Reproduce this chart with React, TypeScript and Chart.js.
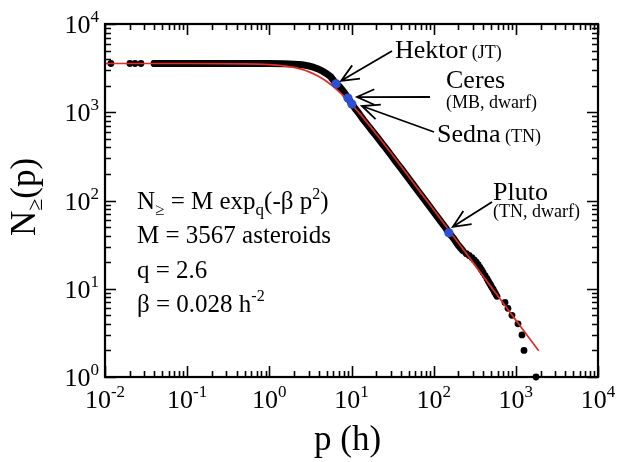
import React, { useEffect, useRef } from "react";
import { Chart, registerables } from "chart.js";

Chart.register(...registerables);

// Red fit curve N = M exp_q(-beta p^2)
const FIT_P = [0.01, 0.1, 0.5, 1, 1.5, 2, 2.5, 3, 4, 5, 6, 7, 8, 10, 12, 15, 20, 30, 50, 70, 100, 150, 200, 300, 500, 700, 1000, 1400, 1900];
const FIT_N = [3567, 3566, 3542, 3471, 3359, 3218, 3057, 2886, 2544, 2231, 1957, 1726, 1532, 1232, 1017, 793, 568, 349, 186, 122, 78.4, 47.3, 33.0, 19.9, 10.5, 6.9, 4.41, 2.9, 1.98];

// Dense part of the asteroid data (merged black dots)
const DENSE_P = [0.04, 0.3, 1, 1.5, 2, 2.5, 3, 3.5, 4, 4.5, 5, 5.6, 6.5, 7, 8, 9.06, 10.1, 11, 12.5, 14, 16, 18, 20, 23, 26, 30, 35, 40, 50, 60, 70, 85, 100, 120, 140, 153, 175, 200, 227];
const DENSE_N = [3567, 3566, 3560, 3545, 3510, 3450, 3350, 3220, 3070, 2900, 2730, 2520, 2100, 1990, 1720, 1449, 1240, 1110, 950, 820, 700, 610, 540, 455, 395, 330, 272, 232, 176, 140, 116, 91, 74, 59, 49, 43, 37, 31, 27];

// Separate asteroid dots
const DOT_P = [0.0118, 0.0201, 0.0232, 0.0274, 0.0395, 250, 270, 293, 312, 330, 348, 366, 383, 400, 423, 446, 463, 480, 497, 513, 531, 550, 570, 590, 738, 802, 897, 1062, 1188, 1257, 1760];
const DOT_N = [3567, 3567, 3567, 3567, 3567, 25, 23.8, 22.5, 21.2, 20, 18.7, 17.4, 16.3, 15.3, 14.1, 13, 12.2, 11.5, 10.9, 10.3, 9.8, 9.2, 8.7, 8.2, 7, 6, 5, 4, 3, 2, 1];

// Named bodies (blue)
const NAMED = ["Hektor", "Ceres", "Sedna", "Pluto"];
const NAMED_P = [6.5, 9.06, 10.1, 153];
const NAMED_N = [2100, 1449, 1240, 43];

const X_EXPS = [-2, -1, 0, 1, 2, 3, 4];
const Y_EXPS = [0, 1, 2, 3, 4];

const FONT = (s: number) => `${s}px "Liberation Serif", "Times New Roman", serif`;

type Run = [string, number, number];

function runsWidth(ctx: CanvasRenderingContext2D, runs: Run[]) {
  let w = 0;
  for (const [t, s] of runs) {
    ctx.font = FONT(s);
    w += ctx.measureText(t).width;
  }
  return w;
}

function drawRuns(ctx: CanvasRenderingContext2D, x: number, y: number, runs: Run[]) {
  let cx = x;
  for (const [t, s, dy] of runs) {
    ctx.font = FONT(s);
    ctx.fillText(t, cx, y + dy);
    cx += ctx.measureText(t).width;
  }
  return cx;
}

function arrow(ctx: CanvasRenderingContext2D, x1: number, y1: number, x2: number, y2: number) {
  const ang = Math.atan2(y1 - y2, x1 - x2);
  const L = 19;
  const s = 0.42;
  ctx.beginPath();
  ctx.moveTo(x1, y1);
  ctx.lineTo(x2, y2);
  ctx.moveTo(x2 + L * Math.cos(ang + s), y2 + L * Math.sin(ang + s));
  ctx.lineTo(x2, y2);
  ctx.lineTo(x2 + L * Math.cos(ang - s), y2 + L * Math.sin(ang - s));
  ctx.stroke();
}

const ANNOTATIONS = [
  { i: 0, tail: [392, 51], tip: [5, -3], lines: [{ x: 395, y: 58, runs: [["Hektor", 26, 0], [" (JT)", 18, 0]] as Run[] }] },
  { i: 1, tail: [430, 97], tip: [9, -1], lines: [{ x: 446, y: 88, runs: [["Ceres", 26, 0]] as Run[] }, { x: 446, y: 108, runs: [["(MB, dwarf)", 18, 0]] as Run[] }] },
  { i: 2, tail: [434, 132], tip: [10, 2], lines: [{ x: 437, y: 142, runs: [["Sedna", 26, 0], [" (TN)", 18, 0]] as Run[] }] },
  { i: 3, tail: [492, 202], tip: [4, -6], lines: [{ x: 493, y: 200, runs: [["Pluto", 26, 0]] as Run[] }, { x: 493, y: 217, runs: [["(TN, dwarf)", 18, 0]] as Run[] }] },
];

const overlay = {
  id: "overlay",
  afterDatasetsDraw(chart: any) {
    const ctx: CanvasRenderingContext2D = chart.ctx;
    const a = chart.chartArea;
    const xs = chart.scales.x;
    const ys = chart.scales.y;
    ctx.save();
    ctx.strokeStyle = "#000";
    ctx.fillStyle = "#000";
    ctx.lineCap = "butt";

    // ticks
    ctx.lineWidth = 1.6;
    ctx.beginPath();
    for (let e = X_EXPS[0]; e <= X_EXPS[X_EXPS.length - 1]; e++) {
      for (let m = 1; m < 10; m++) {
        if (e === X_EXPS[X_EXPS.length - 1] && m > 1) break;
        const px = Math.round(xs.getPixelForValue(m * Math.pow(10, e))) + 0.5;
        const L = m === 1 ? 11 : 6;
        ctx.moveTo(px, a.bottom);
        ctx.lineTo(px, a.bottom - L);
        ctx.moveTo(px, a.top);
        ctx.lineTo(px, a.top + L);
      }
    }
    for (let e = Y_EXPS[0]; e <= Y_EXPS[Y_EXPS.length - 1]; e++) {
      for (let m = 1; m < 10; m++) {
        if (e === Y_EXPS[Y_EXPS.length - 1] && m > 1) break;
        const py = Math.round(ys.getPixelForValue(m * Math.pow(10, e))) + 0.5;
        const L = m === 1 ? 11 : 6;
        ctx.moveTo(a.left, py);
        ctx.lineTo(a.left + L, py);
        ctx.moveTo(a.right, py);
        ctx.lineTo(a.right - L, py);
      }
    }
    ctx.stroke();

    // frame
    ctx.lineWidth = 2.2;
    ctx.strokeRect(a.left, a.top, a.right - a.left, a.bottom - a.top);

    // tick labels
    ctx.textAlign = "left";
    ctx.textBaseline = "alphabetic";
    for (const e of X_EXPS) {
      const runs: Run[] = [["10", 26, 0], [String(e), 17, -11]];
      const w = runsWidth(ctx, runs);
      const px = xs.getPixelForValue(Math.pow(10, e));
      drawRuns(ctx, px - w / 2, a.bottom + 31, runs);
    }
    for (const e of Y_EXPS) {
      const runs: Run[] = [["10", 26, 0], [String(e), 17, -11]];
      const w = runsWidth(ctx, runs);
      const py = ys.getPixelForValue(Math.pow(10, e));
      drawRuns(ctx, a.left - 6 - w, py + 9, runs);
    }

    // axis titles
    const xt: Run[] = [["p (h)", 35, 0]];
    const xw = runsWidth(ctx, xt);
    drawRuns(ctx, (a.left + a.right) / 2 - 4 - xw / 2, 450, xt);

    const yt: Run[] = [["N", 35, 0], ["\u2265", 22, 7], ["(p)", 35, 0]];
    const yw = runsWidth(ctx, yt);
    ctx.save();
    ctx.translate(35, 197);
    ctx.rotate(-Math.PI / 2);
    drawRuns(ctx, -yw / 2, 0, yt);
    ctx.restore();

    // formula block
    const fx = 137;
    drawRuns(ctx, fx, 209, [["N", 25, 0], ["\u2265", 17, 6], [" = M exp", 25, 0], ["q", 17, 6], ["(-\u03b2 p", 25, 0], ["2", 16, -10], [")", 25, 0]]);
    drawRuns(ctx, fx, 243, [["M = 3567 asteroids", 25, 0]]);
    drawRuns(ctx, fx, 278, [["q = 2.6", 25, 0]]);
    drawRuns(ctx, fx, 312, [["\u03b2 = 0.028 h", 25, 0], ["-2", 16, -11]]);

    // annotations
    ctx.lineWidth = 1.8;
    for (const an of ANNOTATIONS) {
      const px = xs.getPixelForValue(NAMED_P[an.i]);
      const py = ys.getPixelForValue(NAMED_N[an.i]);
      arrow(ctx, an.tail[0], an.tail[1], px + an.tip[0], py + an.tip[1]);
      for (const ln of an.lines) drawRuns(ctx, ln.x, ln.y, ln.runs);
    }
    ctx.restore();
  },
};

export default function App() {
  const ref = useRef<HTMLCanvasElement | null>(null);
  useEffect(() => {
    if (!ref.current) return;
    const pts = (P: number[], N: number[]) => P.map((p, k) => ({ x: p, y: N[k] }));
    const chart = new Chart(ref.current, {
      type: "scatter",
      data: {
        datasets: [
          {
            label: "named",
            data: pts(NAMED_P, NAMED_N),
            backgroundColor: "#2c4fd4",
            borderColor: "#2c4fd4",
            pointRadius: 4.6,
            borderWidth: 0,
            order: 0,
          },
          {
            label: "fit",
            data: pts(FIT_P, FIT_N),
            showLine: true,
            borderColor: "#e42a26",
            borderWidth: 1.7,
            pointRadius: 0,
            cubicInterpolationMode: "monotone",
            order: 1,
          },
          {
            label: "asteroids",
            data: pts(DOT_P, DOT_N),
            backgroundColor: "#000",
            borderColor: "#000",
            pointRadius: 3.4,
            borderWidth: 0,
            clip: false,
            order: 2,
          },
          {
            label: "asteroids dense",
            data: pts(DENSE_P, DENSE_N),
            showLine: true,
            borderColor: "#000",
            borderWidth: 7,
            borderCapStyle: "round",
            borderJoinStyle: "round",
            pointRadius: 0,
            order: 3,
          },
        ],
      } as any,
      options: {
        animation: false,
        responsive: false,
        maintainAspectRatio: false,
        layout: { padding: { left: 105, top: 24, right: 21, bottom: 85 } },
        plugins: { legend: { display: false }, tooltip: { enabled: false } },
        scales: {
          x: { type: "logarithmic", min: 0.01, max: 10000, display: false },
          y: { type: "logarithmic", min: 1, max: 10000, display: false },
        },
      } as any,
      plugins: [overlay],
    });
    return () => chart.destroy();
  }, []);
  return (
    <div style={{ position: "absolute", left: 0, top: 0, width: 619, height: 462, background: "#fff" }}>
      <canvas ref={ref} width={619} height={462} style={{ display: "block" }} />
    </div>
  );
}
